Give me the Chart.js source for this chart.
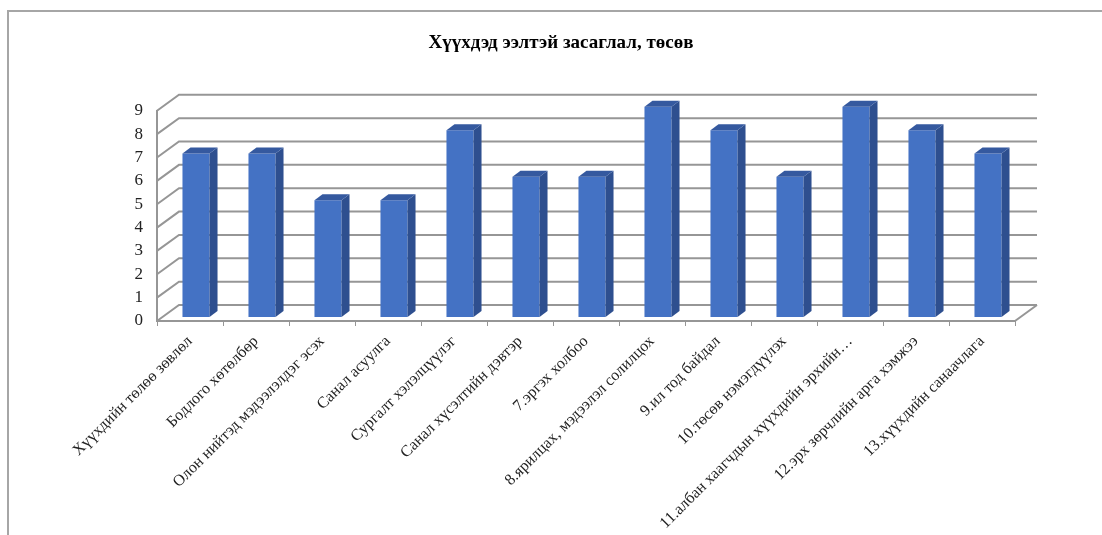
<!DOCTYPE html>
<html>
<head>
<meta charset="utf-8">
<script src="https://cdn.jsdelivr.net/npm/chart.js@4"></script>
<style>
    body { margin: 0; background: #fff; }
    #wrap { position: relative; width: 1102px; height: 535px; }
    #frame {
        position: absolute; left: 7px; top: 10px; right: 0; bottom: 0;
        border-top: 2px solid #a6a6a6; border-left: 2px solid #a6a6a6;
        pointer-events: none;
    }
    canvas { position: absolute; left: 0; top: 0; }
</style>
</head>
<body>
<div id="wrap">
    <canvas id="chart" width="1102" height="535"></canvas>
    <div id="frame"></div>
</div>
<script>
const chartTitle = "Хүүхдэд ээлтэй засаглал, төсөв";

const categories = [
    "Хүүхдийн төлөө зөвлөл",
    "Бодлого хөтөлбөр",
    "Олон нийтэд мэдээлэлдэг эсэх",
    "Санал асуулга",
    "Сургалт хэлэлцүүлэг",
    "Санал хүсэлтийн дэвтэр",
    "7.эргэх холбоо",
    "8.ярилцах, мэдээлэл солилцох",
    "9.ил тод байдал",
    "10.төсөв нэмэгдүүлэх",
    "11.албан хаагчдын хүүхдийн эрхийн…",
    "12.эрх зөрчлийн арга хэмжээ",
    "13.хүүхдийн санаачлага",
];

const values = [7, 7, 5, 5, 8, 6, 6, 9, 8, 6, 9, 8, 7];

const yMin = 0;
const yMax = 9;
const yStep = 1;

// 3D look: back wall offset, bar offset inside the depth, bar depth
const wall = { dx: 22, dy: -16 };
const barShift = { dx: 6, dy: -4 };
const barDepth = { dx: 8, dy: -6 };
const gridColor = "#969696";

const wallPlugin = {
    id: "wall3d",
    beforeDatasetsDraw(chart) {
        const ctx = chart.ctx;
        const y = chart.scales.y;
        const area = chart.chartArea;
        ctx.save();
        ctx.strokeStyle = gridColor;
        ctx.lineWidth = 2;
        for (let v = yMin; v <= yMax; v += yStep) {
            const py = y.getPixelForValue(v);
            ctx.beginPath();
            ctx.moveTo(area.left, py);
            ctx.lineTo(area.left + wall.dx, py + wall.dy);
            ctx.lineTo(area.right + wall.dx, py + wall.dy);
            ctx.stroke();
        }
        // right edge of the floor
        const base = y.getPixelForValue(yMin);
        ctx.beginPath();
        ctx.moveTo(area.right, base);
        ctx.lineTo(area.right + wall.dx, base + wall.dy);
        ctx.stroke();
        ctx.restore();

        ctx.save();
        ctx.translate(barShift.dx, barShift.dy);
    },
    afterDatasetsDraw(chart) {
        const ctx = chart.ctx;
        const bars = chart.getDatasetMeta(0).data;
        for (const bar of bars) {
            const { x, y, base, width } = bar.getProps(["x", "y", "base", "width"], true);
            const left = x - width / 2;
            const right = x + width / 2;

            ctx.fillStyle = "#2e4f8f";
            ctx.beginPath();
            ctx.moveTo(right, y);
            ctx.lineTo(right + barDepth.dx, y + barDepth.dy);
            ctx.lineTo(right + barDepth.dx, base + barDepth.dy);
            ctx.lineTo(right, base);
            ctx.closePath();
            ctx.fill();

            ctx.fillStyle = "#35599f";
            ctx.beginPath();
            ctx.moveTo(left, y);
            ctx.lineTo(left + barDepth.dx, y + barDepth.dy);
            ctx.lineTo(right + barDepth.dx, y + barDepth.dy);
            ctx.lineTo(right, y);
            ctx.closePath();
            ctx.fill();
        }
        ctx.restore();
    },
};

new Chart(document.getElementById("chart"), {
    type: "bar",
    data: {
        labels: categories,
        datasets: [{
            data: values,
            backgroundColor: "#4472c4",
            borderWidth: 0,
            categoryPercentage: 1,
            barPercentage: 0.41,
            clip: false,
        }],
    },
    options: {
        responsive: false,
        animation: false,
        layout: { padding: { left: 20, right: 0, top: 0, bottom: 0 } },
        plugins: {
            legend: { display: false },
            tooltip: { enabled: false },
            title: {
                display: true,
                text: chartTitle,
                color: "#000",
                font: { family: "Liberation Serif", size: 19, weight: "bold" },
                padding: { top: 32, bottom: 56 },
            },
        },
        scales: {
            x: {
                grid: {
                    display: true,
                    drawOnChartArea: false,
                    drawTicks: true,
                    tickLength: 5,
                    color: gridColor,
                },
                border: { display: true, color: gridColor, width: 2 },
                ticks: {
                    autoSkip: false,
                    minRotation: 45,
                    maxRotation: 45,
                    padding: 6,
                    color: "#222",
                    font: { family: "Liberation Serif", size: 16 },
                },
                afterFit: (s) => { s.height = 214; },
            },
            y: {
                min: yMin,
                max: yMax,
                grid: { display: false, drawTicks: false },
                border: { display: true, color: gridColor, width: 2 },
                ticks: {
                    stepSize: yStep,
                    autoSkip: false,
                    padding: 14,
                    color: "#222",
                    font: { family: "Liberation Serif", size: 17 },
                },
                afterFit: (s) => { s.width = 137; },
            },
            y2: {
                position: "right",
                min: yMin,
                max: yMax,
                grid: { display: false, drawTicks: false },
                border: { display: false },
                ticks: { display: false },
                afterFit: (s) => { s.width = 87; },
            },
        },
    },
    plugins: [wallPlugin],
});
</script>
</body>
</html>
